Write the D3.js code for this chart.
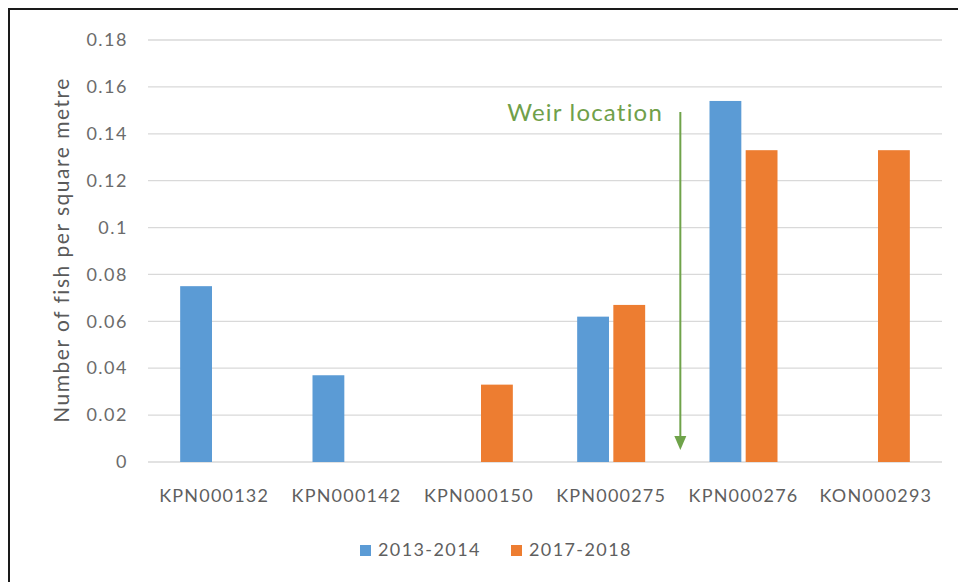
<!DOCTYPE html>
<html>
<head>
<meta charset="utf-8">
<script src="https://cdn.jsdelivr.net/npm/d3@7"></script>
<style>
  html, body { margin: 0; padding: 0; background: #fff; }
  svg { display: block; }
  text { font-family: Lato, "Open Sans", "DejaVu Sans", sans-serif; }
</style>
</head>
<body>
<svg id="chart" width="958" height="582"></svg>
<script>
const categories = ["KPN000132", "KPN000142", "KPN000150", "KPN000275", "KPN000276", "KON000293"];
const seriesNames = ["2013-2014", "2017-2018"];
const values2013 = [0.075, 0.037, null, 0.062, 0.154, null];
const values2017 = [null, null, 0.033, 0.067, 0.133, 0.133];
const yTicks = [0, 0.02, 0.04, 0.06, 0.08, 0.1, 0.12, 0.14, 0.16, 0.18];
const yTitle = "Number of fish per square metre";
const annotationText = "Weir location";

const colors = ["#5B9BD5", "#ED7D31"];
const svg = d3.select("#chart");

// outer frame (top and left edges visible)
svg.append("rect").attr("x", 9).attr("y", 9).attr("width", 1000).attr("height", 1000)
  .attr("fill", "none").attr("stroke", "#1a1a1a").attr("stroke-width", 2);

const x0 = 148, x1 = 942, yTop = 40, yBot = 462;
const x = d3.scaleBand().domain(categories).range([x0, x1]).paddingInner(0).paddingOuter(0);
const xs = d3.scaleBand().domain(seriesNames).range([-34, 34]).paddingInner(0.12);
const y = d3.scaleLinear().domain([0, 0.18]).range([yBot, yTop]);

// gridlines
svg.append("g").selectAll("line").data(yTicks).join("line")
  .attr("x1", x0).attr("x2", x1)
  .attr("y1", d => y(d)).attr("y2", d => y(d))
  .attr("stroke", "#d9d9d9").attr("stroke-width", 1.3);

// y axis labels
const yAxis = d3.axisLeft(y).tickValues(yTicks).tickSize(0).tickPadding(0)
  .tickFormat(d => d === 0 ? "0" : String(+d.toFixed(2)));
const yg = svg.append("g").attr("transform", `translate(128,0)`).call(yAxis);
yg.select(".domain").remove();
yg.selectAll("text").attr("font-size", 18).attr("fill", "#6b6b6b")
  .style("letter-spacing", "1.5px")
  .style("font-family", "Lato, 'Open Sans', sans-serif");

// y title
svg.append("text").attr("transform", `translate(69,250) rotate(-90)`)
  .attr("text-anchor", "middle").attr("font-size", 21).attr("fill", "#5a5a5a")
  .style("letter-spacing", "1.5px").text(yTitle);

// bars
const seriesData = [values2013, values2017];
seriesData.forEach((vals, si) => {
  svg.append("g").selectAll("rect")
    .data(categories.map((c, i) => ({ c, v: vals[i] })).filter(d => d.v != null))
    .join("rect")
    .attr("x", d => x(d.c) + x.bandwidth() / 2 + xs(seriesNames[si]))
    .attr("width", xs.bandwidth())
    .attr("y", d => y(d.v))
    .attr("height", d => y(0) - y(d.v))
    .attr("fill", colors[si]);
});

// x axis labels
const xAxis = d3.axisBottom(x).tickSize(0).tickPadding(0);
const xg = svg.append("g").attr("transform", `translate(0,${yBot + 40})`).call(xAxis);
xg.select(".domain").remove();
xg.selectAll("text").attr("font-size", 18).attr("fill", "#5f5f5f").attr("dy", 0)
  .style("letter-spacing", "1.2px")
  .style("font-family", "Lato, 'Open Sans', sans-serif");

// weir annotation arrow
const arrowX = (x("KPN000275") + x.bandwidth() + x("KPN000276")) / 2 + 3;
const green = "#6FA34A";
svg.append("line").attr("x1", arrowX).attr("x2", arrowX)
  .attr("y1", 112).attr("y2", 440).attr("stroke", green).attr("stroke-width", 2);
svg.append("path")
  .attr("d", `M${arrowX - 6},${436} L${arrowX + 6},${436} L${arrowX},${450} Z`)
  .attr("fill", green);
svg.append("text").attr("x", 663).attr("y", 121).attr("text-anchor", "end")
  .attr("font-size", 24).attr("fill", "#70A04A").style("letter-spacing", "1.2px").text(annotationText);

// legend
const legend = svg.append("g");
const legendItems = [{ name: seriesNames[0], x: 360 }, { name: seriesNames[1], x: 511 }];
legendItems.forEach((it, i) => {
  legend.append("rect").attr("x", it.x).attr("y", 545).attr("width", 11).attr("height", 11).attr("fill", colors[i]);
  legend.append("text").attr("x", it.x + 18).attr("y", 556).attr("font-size", 18).attr("fill", "#5f5f5f")
    .style("letter-spacing", "1.4px").text(it.name);
});
</script>
</body>
</html>
